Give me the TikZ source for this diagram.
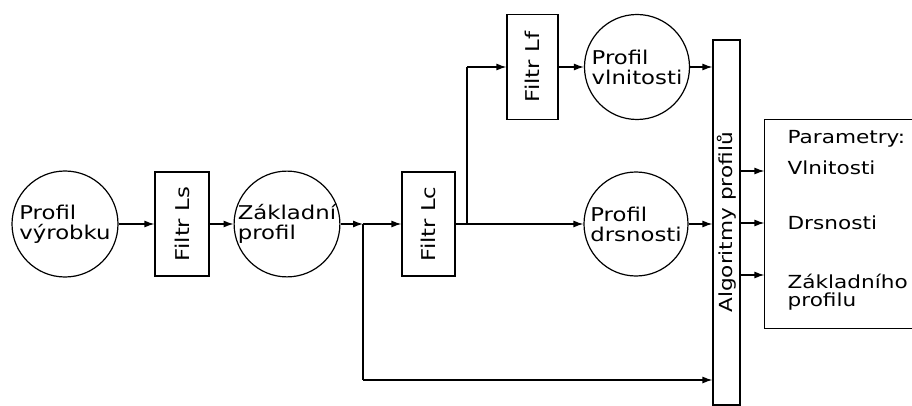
\documentclass[tikz,border=0pt]{standalone}
\usepackage{graphicx}
\usepackage{fontspec}
\newfontfamily\cad[FakeStretch=1.2]{DejaVu Sans}
\usetikzlibrary{arrows.meta}
\begin{document}
\begin{tikzpicture}[x=1pt,y=-1pt,line width=1.2pt,
  every node/.style={font=\cad\fontsize{18}{20}\selectfont},
  circ/.style={draw,circle,minimum size=104pt,inner sep=0pt,align=left,font=\cad\fontsize{19}{20}\selectfont},
  boxn/.style={draw,rectangle,inner sep=0pt},
  arr/.style={-{Latex[length=10pt,width=7pt]}},
  txt/.style={anchor=base west,inner sep=0pt}]
\useasboundingbox (0,0) rectangle (912,406);
% nodes
\node[circ,minimum size=106pt] (pv) at (65,224) {Profil\\výrobku};
\node[boxn,minimum width=54pt,minimum height=104pt] (ls) at (182,224) {\rotatebox{90}{\fontsize{19}{20}\selectfont Filtr Ls}};
\node[circ] (zp) at (287,224) {Základní\\profil};
\coordinate (j1) at (363,224);
\node[boxn,minimum width=53pt,minimum height=104pt] (lc) at (428.5,224) {\rotatebox{90}{\fontsize{19}{20}\selectfont Filtr Lc}};
\coordinate (j2) at (467,224);
\coordinate (j3) at (467,67);
\node[boxn,minimum width=51pt,minimum height=105pt] (lf) at (532.5,67) {\rotatebox{90}{\fontsize{19}{20}\selectfont Filtr Lf}};
\node[circ,minimum size=105pt] (vl) at (637,67) {Profil\\vlnitosti};
\node[circ] (dr) at (636,224) {Profil\\drsnosti};
\node[boxn,minimum width=27pt,minimum height=365pt] (alg) at (726.5,222.5) {\rotatebox{90}{Algoritmy profilů}};
\coordinate (j4) at (363,380);
\node[inner sep=0pt,minimum width=147pt,minimum height=208pt] (par) at (838.5,224) {};
\draw (par.north east) -- (par.north west) -- (par.south west) -- (par.south east);
\node[txt] (t0) at (787,144) {Parametry:};
\node[txt] (t1) at (787,175) {Vlnitosti};
\node[txt] (t2) at (787,229) {Drsnosti};
\node[txt] (t3) at (787,288) {Základního};
\node[txt] (t4) at (787,306) {profilu};
\coordinate (o1) at (740,171);
\coordinate (o2) at (740,223);
\coordinate (o3) at (740,275);
% connectors
\draw[arr] (pv.east) -- (ls.west);
\draw[arr] (ls.east) -- (zp.west);
\draw[arr] (zp.east) -- (j1);
\draw[arr] (j1) -- (lc.west);
\draw (j1) -- (j4);
\draw[arr] (j4) -- (j4 -| alg.west);
\draw[arr] (lc.east) -- (dr.west);
\draw (j2) -- (j3);
\draw[arr] (j3) -- (j3 -| lf.west);
\draw[arr] (lf.east) -- (vl.west);
\draw[arr] (vl.east) -- (vl.east -| alg.west);
\draw[arr] (dr.east) -- (dr.east -| alg.west);
\draw[arr] (o1) -- (o1 -| par.west);
\draw[arr] (o2) -- (o2 -| par.west);
\draw[arr] (o3) -- (o3 -| par.west);
\end{tikzpicture}
\end{document}
